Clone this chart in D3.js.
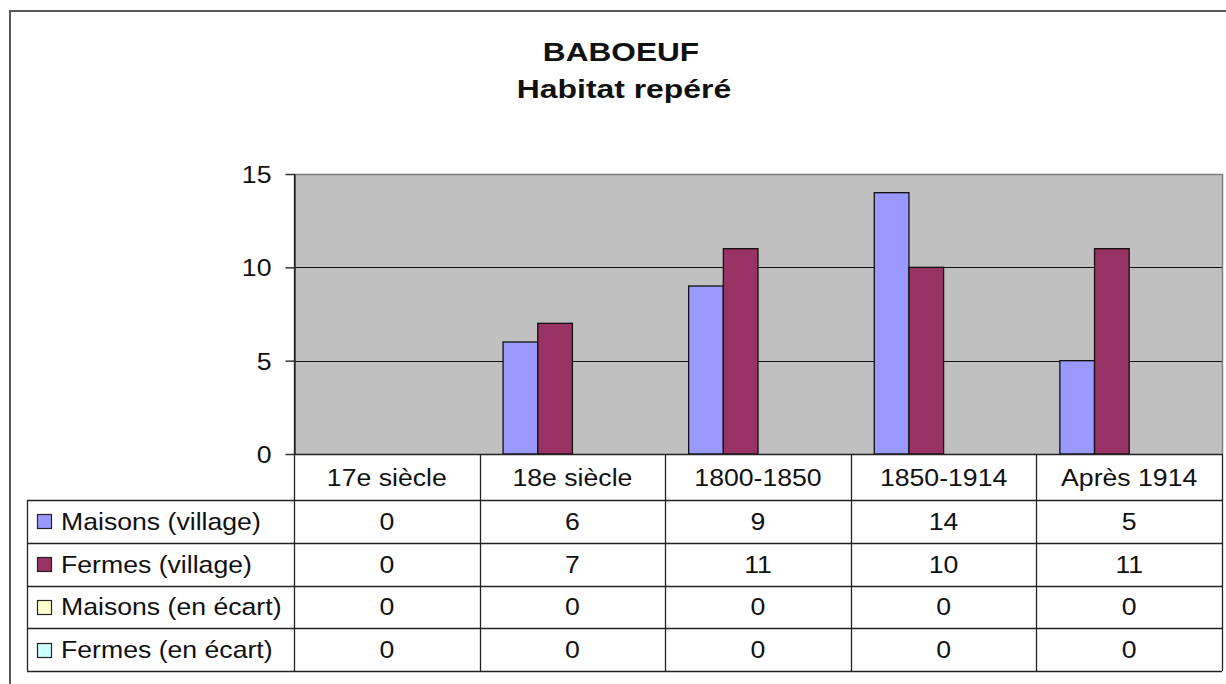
<!DOCTYPE html>
<html>
<head>
<meta charset="utf-8">
<script src="https://cdn.jsdelivr.net/npm/d3@7"></script>
<style>
  body { margin: 0; background: #fff; }
  svg { display: block; font-family: "Liberation Sans", Arial, sans-serif; }
</style>
</head>
<body>
<script>
const categories = ['17e siècle', '18e siècle', '1800-1850', '1850-1914', 'Après 1914']
const seriesNames = ['Maisons (village)', 'Fermes (village)', 'Maisons (en écart)', 'Fermes (en écart)']
const maisonsVillage = [0, 6, 9, 14, 5]
const fermesVillage = [0, 7, 11, 10, 11]
const maisonsEcart = [0, 0, 0, 0, 0]
const fermesEcart = [0, 0, 0, 0, 0]
const yTicks = [0, 5, 10, 15]
const seriesColors = ['#9999ff', '#993366', '#ffffcc', '#ccffff']

const seriesValues = [maisonsVillage, fermesVillage, maisonsEcart, fermesEcart]

const w = 1226
const h = 684
const plotLeft = 294
const plotRight = 1222
const plotTop = 174
const plotBottom = 454
const tableLeft = 27
const tableBottom = 671
const headerBottom = 500
const fontSize = 24
const sx = 1.11

const svg = d3.select('body').append('svg')
    .attr('width', w)
    .attr('height', h)

// stretched text helper, the source picture is wider than Arial
const label = (g, x, y, txt, anchor, size, weight, stretch) => {
    return g.append('text')
        .attr('transform', `translate(${x},${y}) scale(${stretch || sx},1)`)
        .attr('text-anchor', anchor)
        .attr('font-size', size || fontSize)
        .attr('font-weight', weight || 'normal')
        .attr('fill', '#111')
        .text(txt)
}

// outer chart frame (only left and top are visible)
svg.append('rect')
    .attr('x', 10)
    .attr('y', 11)
    .attr('width', w + 20)
    .attr('height', h + 20)
    .attr('fill', 'none')
    .attr('stroke', '#5a5a5a')
    .attr('stroke-width', 2)

label(svg, 621, 61, 'BABOEUF', 'middle', 25.5, 'bold', 1.24)
label(svg, 624, 98, 'Habitat repéré', 'middle', 25.5, 'bold', 1.25)

const x0 = d3.scaleBand()
    .domain(categories)
    .range([plotLeft, plotRight])

const x1 = d3.scaleBand()
    .domain(seriesNames)
    .range([0, x0.bandwidth()])
    .paddingInner(0)
    .paddingOuter(0.677)

const y = d3.scaleLinear()
    .domain([0, 15])
    .range([plotBottom, plotTop])

const rowScale = d3.scaleBand()
    .domain(seriesNames)
    .range([headerBottom, tableBottom])

// plot background
svg.append('rect')
    .attr('x', plotLeft)
    .attr('y', plotTop)
    .attr('width', plotRight - plotLeft)
    .attr('height', plotBottom - plotTop)
    .attr('fill', '#c0c0c0')

// gridlines
svg.append('g')
    .selectAll('line')
    .data(yTicks.filter(t => t > 0 && t < 15))
    .enter()
    .append('line')
    .attr('x1', plotLeft)
    .attr('x2', plotRight)
    .attr('y1', d => Math.round(y(d)) + 0.5)
    .attr('y2', d => Math.round(y(d)) + 0.5)
    .attr('stroke', '#111')
    .attr('stroke-width', 1.2)

// plot border (top and right)
svg.append('path')
    .attr('d', `M${plotLeft},${plotTop + 0.5}H${plotRight + 0.5}V${plotBottom}`)
    .attr('fill', 'none')
    .attr('stroke', '#808080')
    .attr('stroke-width', 1.5)

// bars
const flat = []
categories.forEach((c, i) => {
    seriesNames.forEach((s, j) => {
        flat.push({ cat: c, series: s, value: seriesValues[j][i], color: seriesColors[j] })
    })
})

svg.append('g')
    .selectAll('rect')
    .data(flat.filter(d => d.value > 0))
    .enter()
    .append('rect')
    .attr('x', d => x0(d.cat) + x1(d.series))
    .attr('y', d => y(d.value))
    .attr('width', x1.bandwidth())
    .attr('height', d => y(0) - y(d.value))
    .attr('fill', d => d.color)
    .attr('stroke', '#111')
    .attr('stroke-width', 1.3)

// y axis
const yAxis = svg.append('g')
    .attr('transform', `translate(${plotLeft + 0.5},0)`)
    .call(d3.axisLeft(y).tickValues(yTicks).tickSize(9).tickPadding(14).tickSizeOuter(0))

yAxis.select('.domain').attr('stroke', '#333').attr('stroke-width', 1.5)
yAxis.selectAll('.tick line').attr('stroke', '#333').attr('stroke-width', 1.5)
yAxis.selectAll('.tick text')
    .attr('font-size', fontSize)
    .attr('font-family', '"Liberation Sans", Arial, sans-serif')
    .attr('fill', '#111')
    .attr('transform', function () {
        const tx = +d3.select(this).attr('x')
        return `translate(${tx},0) scale(${sx},1)`
    })
    .attr('x', 0)
    .attr('dy', '0.36em')

// data table
const table = svg.append('g')

categories.forEach(c => {
    label(table, x0(c) + x0.bandwidth() / 2, (plotBottom + headerBottom) / 2 + 8.5, c, 'middle')
})

seriesNames.forEach((s, j) => {
    const cy = rowScale(s) + rowScale.bandwidth() / 2
    table.append('rect')
        .attr('x', 37.5)
        .attr('y', Math.round(cy - 7) + 0.5)
        .attr('width', 14)
        .attr('height', 14)
        .attr('fill', seriesColors[j])
        .attr('stroke', '#222')
        .attr('stroke-width', 1.2)
    label(table, 61, cy + 8.5, s, 'start')
    categories.forEach((c, i) => {
        label(table, x0(c) + x0.bandwidth() / 2, cy + 8.5, seriesValues[j][i], 'middle')
    })
})

// table grid
const hLines = [[plotLeft, plotRight, plotBottom]]
rowScale.domain().forEach(s => hLines.push([tableLeft, plotRight, rowScale(s)]))
hLines.push([tableLeft, plotRight, tableBottom])

table.append('g')
    .selectAll('line')
    .data(hLines)
    .enter()
    .append('line')
    .attr('x1', d => d[0])
    .attr('x2', d => d[1])
    .attr('y1', d => Math.round(d[2]) + 0.5)
    .attr('y2', d => Math.round(d[2]) + 0.5)
    .attr('stroke', '#222')
    .attr('stroke-width', 1.3)

const vLines = [[tableLeft, headerBottom], [plotLeft, plotTop]]
categories.slice(1).forEach(c => vLines.push([x0(c), plotBottom]))
vLines.push([plotRight, plotBottom])

table.append('g')
    .selectAll('line')
    .data(vLines)
    .enter()
    .append('line')
    .attr('x1', d => Math.round(d[0]) + 0.5)
    .attr('x2', d => Math.round(d[0]) + 0.5)
    .attr('y1', d => d[1])
    .attr('y2', tableBottom)
    .attr('stroke', '#222')
    .attr('stroke-width', 1.3)
</script>
</body>
</html>
